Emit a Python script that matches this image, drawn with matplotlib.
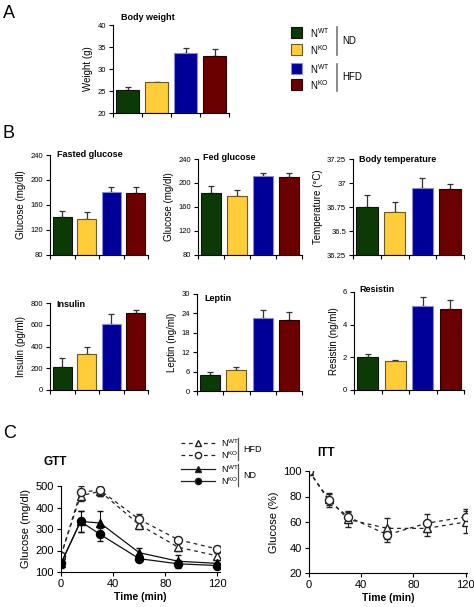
import numpy as np
import matplotlib
matplotlib.use("Agg")
import matplotlib.pyplot as plt
from matplotlib.patches import Rectangle
from matplotlib.lines import Line2D

plt.rcParams['font.family'] = ['Liberation Sans', 'DejaVu Sans']

W, H = 474, 607

# ---- data ----
groups = ['ND WT', 'ND KO', 'HFD WT', 'HFD KO']
colors = ['#0c3a06', '#ffcc3a', '#000099', '#6a0000']
edges = ['#111111', '#6b5a20', '#8a8ad0', '#2a0000']

body_weight = [25.3, 27.0, 33.7, 33.0]
body_weight_err = [0.6, 0.1, 1.0, 1.6]
fasted_glucose = [140, 138, 181, 179]
fasted_glucose_err = [10, 10, 7, 9]
fed_glucose = [184, 179, 211, 210]
fed_glucose_err = [11, 9, 6, 6]
body_temp = [36.75, 36.70, 36.95, 36.94]
body_temp_err = [0.12, 0.10, 0.10, 0.05]
insulin = [215, 335, 610, 710]
insulin_err = [75, 60, 90, 30]
leptin = [4.8, 6.6, 22.7, 21.9]
leptin_err = [1.0, 0.8, 2.3, 2.4]
resistin = [2.05, 1.75, 5.15, 4.95]
resistin_err = [0.15, 0.08, 0.55, 0.55]

time_min = [0, 15, 30, 60, 90, 120]
gtt_hfd_wt = [180, 455, 475, 320, 215, 175]
gtt_hfd_wt_err = [10, 25, 20, 20, 18, 15]
gtt_hfd_ko = [175, 472, 480, 345, 250, 207]
gtt_hfd_ko_err = [12, 28, 25, 25, 15, 12]
gtt_nd_wt = [140, 335, 328, 190, 150, 140]
gtt_nd_wt_err = [15, 50, 55, 22, 28, 15]
gtt_nd_ko = [140, 335, 275, 162, 138, 130]
gtt_nd_ko_err = [20, 50, 30, 10, 20, 12]

itt_wt = [100, 78, 62, 55, 55, 60]
itt_wt_err = [2, 5, 6, 8, 6, 9]
itt_ko = [100, 77, 64, 50, 59, 64]
itt_ko_err = [2, 5, 5, 6, 7, 6]

fig = plt.figure(figsize=(W / 100, H / 100), dpi=100)


def ax_px(x0, y0, x1, y1):
    return fig.add_axes([x0 / W, 1 - y1 / H, (x1 - x0) / W, (y1 - y0) / H])


def style(ax, fs=5.5):
    ax.spines['top'].set_visible(False)
    ax.spines['right'].set_visible(False)
    ax.tick_params(axis='both', labelsize=fs, length=3, width=0.8, pad=2)


def bar_panel(box, vals, errs, ylim, yticks, ylabel, title, ticklabels=None,
              title_x=0.25, title_y=1.0):
    ax = ax_px(*box)
    x = np.arange(len(vals))
    ax.bar(x, np.array(vals) - ylim[0], width=0.77, bottom=ylim[0],
           color=colors, edgecolor=edges, linewidth=0.8, zorder=2)
    ax.errorbar(x, vals, yerr=[np.zeros(len(errs)), errs], fmt='none',
                ecolor='#333333', elinewidth=0.9, capsize=2.5, capthick=0.9, zorder=1)
    ax.set_xlim(-0.5, 3.5)
    ax.set_ylim(*ylim)
    ax.set_yticks(yticks)
    if ticklabels is not None:
        ax.set_yticklabels(ticklabels)
    ax.set_xticks([-0.5, 0.5, 1.5, 2.5, 3.5])
    ax.set_xticklabels([])
    style(ax)
    ax.set_ylabel(ylabel, fontsize=7, labelpad=3)
    ax.text(title_x, title_y, title, transform=ax.transAxes, fontsize=6.5,
            fontweight='bold', ha='left', va='top')
    return ax


# Panel A
bar_panel((113, 25, 229, 113), body_weight, body_weight_err, (20, 40),
          [20, 25, 30, 35, 40], 'Weight (g)', 'Body weight', title_x=0.07, title_y=1.14)

# legend A
leg_rows = [(33, 'N$^{\\mathregular{WT}}$'), (50, 'N$^{\\mathregular{KO}}$'),
            (69, 'N$^{\\mathregular{WT}}$'), (85, 'N$^{\\mathregular{KO}}$')]
for (yc, lab), c, e in zip(leg_rows, colors, edges):
    fig.patches.append(Rectangle(((291) / W, 1 - (yc + 5) / H), 11 / W, 11 / H,
                                 transform=fig.transFigure, facecolor=c,
                                 edgecolor=e, linewidth=0.8))
    fig.text(310 / W, 1 - yc / H, lab, fontsize=7, va='center', ha='left')
for y0, y1, txt in [(27, 55, 'ND'), (64, 91, 'HFD')]:
    fig.lines.append(Line2D([337 / W, 337 / W], [1 - y0 / H, 1 - y1 / H],
                            transform=fig.transFigure, color='#777777', lw=1.2))
    fig.text(342 / W, 1 - (y0 + y1) / 2 / H, txt, fontsize=7, va='center', ha='left')

# Panel B row 1
bar_panel((50, 155, 148, 255), fasted_glucose, fasted_glucose_err, (80, 240),
          [80, 120, 160, 200, 240], 'Glucose (mg/dl)', 'Fasted glucose',
          title_x=0.07, title_y=1.05)
bar_panel((198, 159, 302, 255), fed_glucose, fed_glucose_err, (80, 240),
          [80, 120, 160, 200, 240], 'Glucose (mg/dl)', 'Fed glucose',
          title_x=0.05, title_y=1.06)
bar_panel((353, 159, 464, 255), body_temp, body_temp_err, (36.25, 37.25),
          [36.25, 36.5, 36.75, 37, 37.25], 'Temperature (°C)', 'Body temperature',
          ticklabels=['36.25', '36.5', '36.75', '37', '37.25'],
          title_x=0.05, title_y=1.04)

# Panel B row 2
bar_panel((50, 303, 148, 390), insulin, insulin_err, (0, 800),
          [0, 200, 400, 600, 800], 'Insulin (pg/ml)', 'Insulin',
          title_x=0.07, title_y=1.03)
bar_panel((197, 294, 302, 391), leptin, leptin_err, (0, 30),
          [0, 6, 12, 18, 24, 30], 'Leptin (ng/ml)', 'Leptin',
          title_x=0.07, title_y=1.0)
bar_panel((354, 292, 464, 390), resistin, resistin_err, (0, 6),
          [0, 2, 4, 6], 'Resistin (ng/ml)', 'Resistin',
          title_x=0.05, title_y=1.07)

# Panel C GTT
ax = ax_px(61, 486, 220, 572)
ms = 5.8
dash = (0, (3, 3))
ax.errorbar(time_min, gtt_hfd_wt, yerr=gtt_hfd_wt_err, color='#222222', ls=dash,
            lw=0.9, marker='^', mfc='white', mec='#222222', ms=ms, capsize=2, elinewidth=0.8)
ax.errorbar(time_min, gtt_hfd_ko, yerr=gtt_hfd_ko_err, color='#222222', ls=dash,
            lw=0.9, marker='o', mfc='white', mec='#222222', ms=ms, capsize=2, elinewidth=0.8)
ax.errorbar(time_min, gtt_nd_wt, yerr=gtt_nd_wt_err, color='#111111', ls='-',
            lw=0.9, marker='^', mfc='black', mec='black', ms=ms, capsize=2, elinewidth=0.8)
ax.errorbar(time_min, gtt_nd_ko, yerr=gtt_nd_ko_err, color='#111111', ls='-',
            lw=0.9, marker='o', mfc='black', mec='black', ms=ms, capsize=2, elinewidth=0.8)
ax.set_xlim(0, 122)
ax.set_ylim(100, 500)
ax.set_xticks([0, 40, 80, 120])
ax.set_yticks([100, 200, 300, 400, 500])
style(ax, fs=8)
ax.set_ylabel('Glucose (mg/dl)', fontsize=8, labelpad=3)
ax.set_xlabel('Time (min)', fontsize=7.5, fontweight='bold', labelpad=2)
fig.text(43 / W, 1 - 462 / H, 'GTT', fontsize=8.5, fontweight='bold',
         ha='left', va='center')

# legend C
leg_c = [(443, '^', 'white', dash, 'N$^{\\mathregular{WT}}$'),
         (455, 'o', 'white', dash, 'N$^{\\mathregular{KO}}$'),
         (469, '^', 'black', '-', 'N$^{\\mathregular{WT}}$'),
         (481, 'o', 'black', '-', 'N$^{\\mathregular{KO}}$')]
for yc, mk, fc, ls, lab in leg_c:
    fig.lines.append(Line2D([181 / W, 215 / W], [1 - yc / H, 1 - yc / H],
                            transform=fig.transFigure, color='#222222', ls=ls, lw=0.9))
    fig.lines.append(Line2D([198 / W], [1 - yc / H], transform=fig.transFigure,
                            marker=mk, mfc=fc, mec='#222222', ms=4.5, ls='none'))
    fig.text(221 / W, 1 - yc / H, lab, fontsize=6.5, va='center', ha='left')
for y0, y1, txt in [(438, 460, 'HFD'), (464, 486, 'ND')]:
    fig.lines.append(Line2D([238 / W, 238 / W], [1 - y0 / H, 1 - y1 / H],
                            transform=fig.transFigure, color='#555555', lw=0.9))
    fig.text(243 / W, 1 - (y0 + y1) / 2 / H, txt, fontsize=6.5, va='center', ha='left')

# Panel C ITT
ax2 = ax_px(309, 471, 467, 573)
ax2.errorbar(time_min, itt_wt, yerr=itt_wt_err, color='#222222', ls=dash,
             lw=0.9, marker='^', mfc='white', mec='#222222', ms=ms, capsize=2, elinewidth=0.8)
ax2.errorbar(time_min, itt_ko, yerr=itt_ko_err, color='#222222', ls=dash,
             lw=0.9, marker='o', mfc='white', mec='#222222', ms=ms, capsize=2, elinewidth=0.8)
ax2.set_xlim(0, 121)
ax2.set_ylim(20, 100)
ax2.set_xticks([0, 40, 80, 120])
ax2.set_yticks([20, 40, 60, 80, 100])
style(ax2, fs=8)
ax2.set_ylabel('Glucose (%)', fontsize=8, labelpad=3)
ax2.set_xlabel('Time (min)', fontsize=7.5, fontweight='bold', labelpad=2)
fig.text(317 / W, 1 - 453 / H, 'ITT', fontsize=8.5, fontweight='bold',
         ha='left', va='center')

# panel letters
fig.text(3 / W, 1 - 14 / H, 'A', fontsize=13, va='center', ha='left')
fig.text(3 / W, 1 - 133 / H, 'B', fontsize=13, va='center', ha='left')
fig.text(3 / W, 1 - 433 / H, 'C', fontsize=13, va='center', ha='left')

fig.savefig('out.png', dpi=100)
